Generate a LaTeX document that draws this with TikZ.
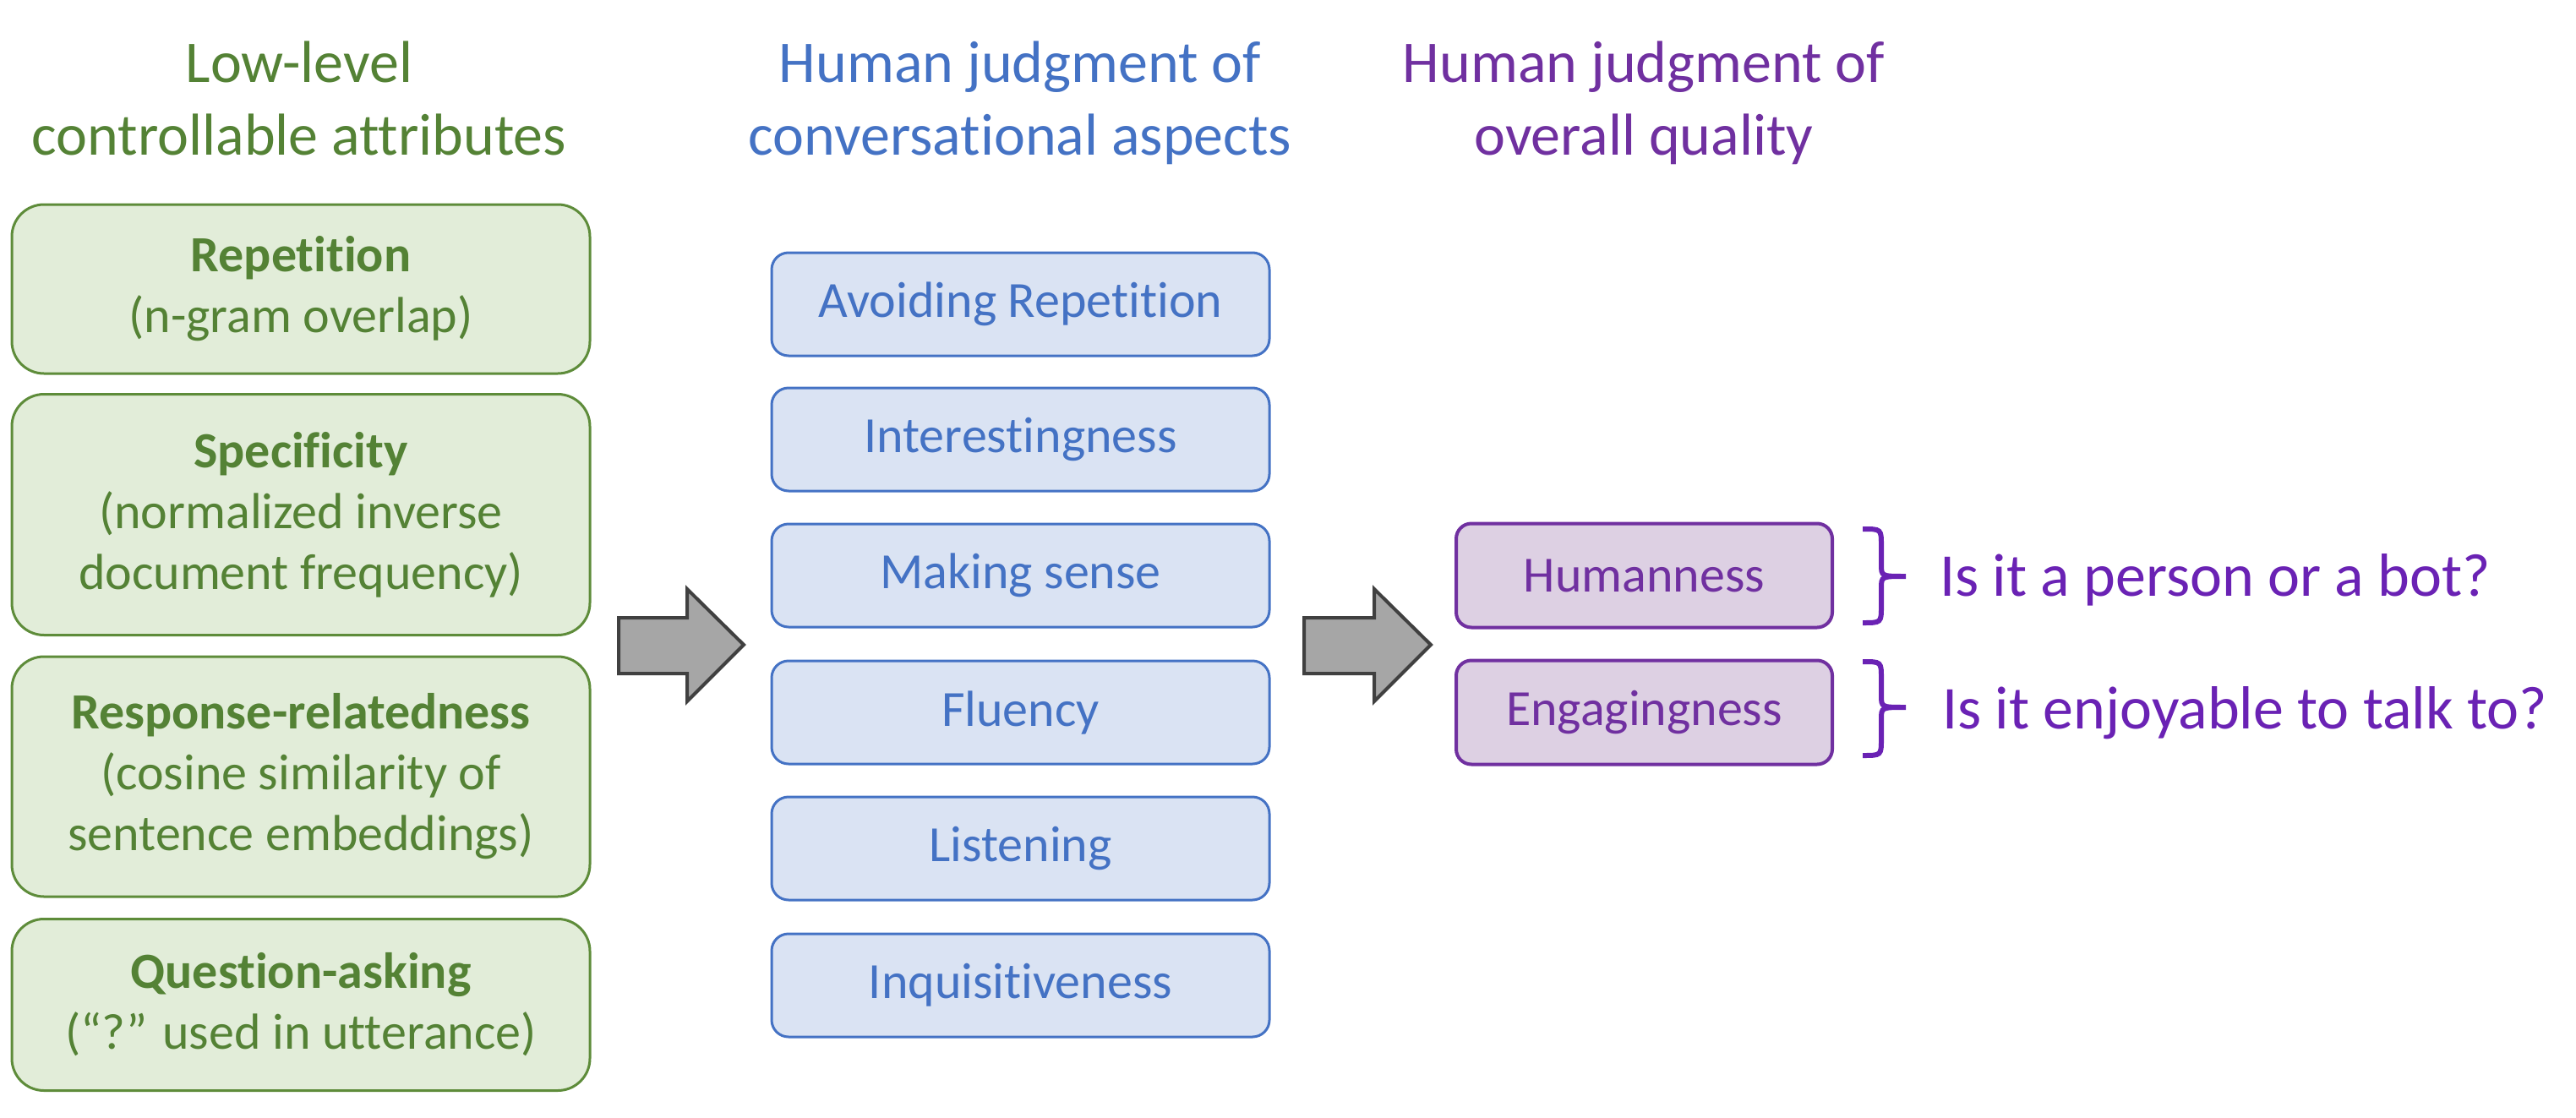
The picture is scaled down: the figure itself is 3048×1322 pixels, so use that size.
\documentclass[tikz,border=0pt]{standalone}
\usepackage{fontspec}
\setmainfont{Carlito}[Ligatures={NoCommon,NoDiscretionary}]
\definecolor{gtext}{HTML}{548235}
\definecolor{gborder}{HTML}{5E8C3A}
\definecolor{gfill}{HTML}{E2EDD9}
\definecolor{bblue}{HTML}{4472C4}
\definecolor{bfill}{HTML}{DAE3F3}
\definecolor{ppurple}{HTML}{7030A0}
\definecolor{pfill}{HTML}{DDD0E3}
\definecolor{qpurple}{HTML}{6A22B4}
\definecolor{agray}{HTML}{A6A6A6}
\definecolor{adark}{HTML}{404040}
\begin{document}
\begin{tikzpicture}[x=1pt,y=-1pt,
  gbox/.style={draw=gborder, fill=gfill, line width=3pt, rounded corners=38pt,
    minimum width=684pt, text=gtext, align=center, inner sep=0pt,
    font=\fontsize{60}{72}\selectfont},
  bbox/.style={draw=bblue, fill=bfill, line width=3pt, rounded corners=20pt,
    minimum width=589pt, minimum height=122pt, text=bblue, inner sep=0pt,
    font=\fontsize{60}{72}\selectfont},
  pbox/.style={draw=ppurple, fill=pfill, line width=4pt, rounded corners=18pt,
    minimum width=445pt, minimum height=123pt, text=ppurple, inner sep=0pt,
    font=\fontsize{60}{72}\selectfont},
  title/.style={font=\fontsize{70}{86}\selectfont, align=center, anchor=north, inner sep=0pt},
  blockarrow/.style={fill=agray, draw=adark, line width=4pt, line join=miter},
  qtext/.style={font=\fontsize{72}{86}\selectfont, text=qpurple, anchor=base west, inner sep=0pt},
  bracestyle/.style={draw=qpurple, line width=6pt}
]
\useasboundingbox (0,0) rectangle (3048,1322);

% titles
\node[title, text=gtext] (t1) at (354,49) {Low-level\\controllable attributes};
\node[title, text=bblue] (t2) at (1207,49) {Human judgment of\\conversational aspects};
\node[title, text=ppurple] (t3) at (1945,49) {Human judgment of\\overall quality};

% green boxes
\node[gbox, minimum height=200pt] (g1) at (356,342) {\textbf{Repetition}\\(n-gram overlap)};
\node[gbox, minimum height=285pt] (g2) at (356,609) {\textbf{Specificity}\\(normalized inverse\\document frequency)};
\node[gbox, minimum height=284pt] (g3) at (356,919) {\textbf{Response-relatedness}\\(cosine similarity of\\sentence embeddings)};
\node[gbox, minimum height=203pt] (g4) at (356,1189) {\textbf{Question-asking}\\(“?” used in utterance)};

% blue boxes
\node[bbox] (b1) at (1207.5,360) {Avoiding Repetition};
\node[bbox] (b2) at (1207.5,520) {Interestingness};
\node[bbox] (b3) at (1207.5,681) {Making sense};
\node[bbox] (b4) at (1207.5,843) {Fluency};
\node[bbox] (b5) at (1207.5,1004) {Listening};
\node[bbox] (b6) at (1207.5,1166) {Inquisitiveness};

% purple boxes
\node[pbox] (p1) at (1945.5,681) {Humanness};
\node[pbox] (p2) at (1945.5,843) {Engagingness};

% block arrows
\path[blockarrow] (732,731) -- (813,731) -- (813,697) -- (880,763) -- (813,830) -- (813,797) -- (732,797) -- cycle;
\path[blockarrow] (1543,731) -- (1626,731) -- (1626,697) -- (1693,763) -- (1626,830) -- (1626,797) -- (1543,797) -- cycle;

% braces
\draw[bracestyle] (2204,626) .. controls (2226,626) .. (2226,646) -- (2226,668)
  .. controls (2226,682) .. (2255,682) .. controls (2226,682) .. (2226,696)
  -- (2226,717) .. controls (2226,737) .. (2204,737);
\draw[bracestyle] (2204,783) .. controls (2226,783) .. (2226,803) -- (2226,823)
  .. controls (2226,837) .. (2255,837) .. controls (2226,837) .. (2226,851)
  -- (2226,874) .. controls (2226,894) .. (2204,894);

% question texts
\node[qtext] (q1) at (2295,705) {Is it a person or a bot?};
\node[qtext] (q2) at (2298,862) {Is it enjoyable to talk to?};
\end{tikzpicture}
\end{document}
